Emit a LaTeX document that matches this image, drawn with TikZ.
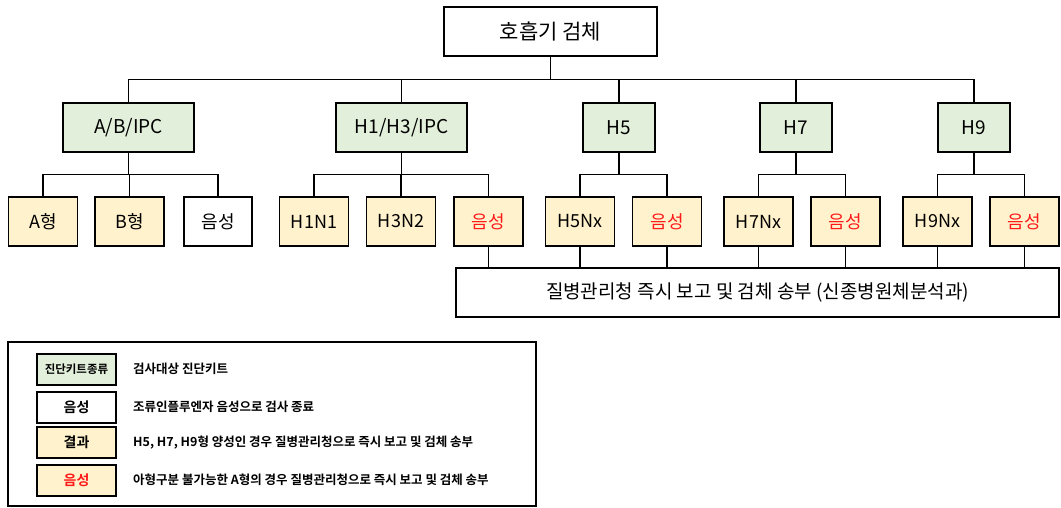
\documentclass[tikz,border=0pt]{standalone}
\usepackage{fontspec}
\setmainfont{Noto Sans CJK KR}[BoldFont = {Noto Sans CJK KR Bold}]
\usepackage{tikz}
\usetikzlibrary{calc}
\definecolor{kitgreen}{HTML}{E2EFDA}
\definecolor{resyellow}{HTML}{FFF2CC}
\definecolor{negred}{HTML}{FF1A1A}
\tikzset{box/.style = {draw, line width = 1.4pt, inner sep = 0, minimum height = 49pt, font = \fontsize{19}{22}\selectfont}}
\tikzset{kit/.style = {box, fill = kitgreen}}
\tikzset{res/.style = {box, fill = resyellow, minimum width = 69pt, font = \fontsize{18}{21}\selectfont}}
\tikzset{neg/.style = {res, text = negred}}
\tikzset{link/.style = {line width = 1.3pt}}
\tikzset{tree/.style = {to path = {(\tikztostart) |- ($(\tikztostart)!0.5!(\tikztotarget)$) -| (\tikztotarget)}}}
\tikzset{legbox/.style = {draw, line width = 2pt, inner sep = 0, minimum width = 79pt, minimum height = 31pt, font = \fontsize{14}{16}\selectfont\bfseries}}
\tikzset{legtext/.style = {anchor = west, inner sep = 0, font = \fontsize{12.5}{15}\selectfont\bfseries}}

\begin{document}
\begin{tikzpicture}[x = 1pt, y = -1pt]
  \useasboundingbox (0, 0) rectangle (1061, 507);
  % specimen
  \node [box, minimum width = 213pt, font = \fontsize{21}{24}\selectfont] (root) at (550.5, 31.5) {호흡기 검체};
  % diagnostic kits
  \node [kit, minimum width = 131pt] (abipc) at (128.5, 127.5) {A/B/IPC};
  \node [kit, minimum width = 131pt] (h13ipc) at (401.5, 127.5) {H1/H3/IPC};
  \foreach \n/\x in {5/619, 7/796, 9/974} {
    \node [kit, minimum width = 72pt] (h\n) at (\x, 127.5) {H\n};
  }
  % results
  \node [res] (atype) at (43, 221.5) {A형};
  \node [res] (btype) at (129.5, 221.5) {B형};
  \node [box, minimum width = 68pt, font = \fontsize{18}{21}\selectfont] (abneg) at (218, 221.5) {음성};
  \node [res] (h1n1) at (314, 221.5) {H1N1};
  \node [res] (h3n2) at (401, 221.5) {H3N2};
  \node [neg] (h13neg) at (488.5, 221.5) {음성};
  \foreach \n/\x in {5/580, 7/758.5, 9/937.5} {
    \node [res] (h\n nx) at (\x, 221.5) {H\n Nx};
    \node [neg] (h\n neg) at (\x + 87, 221.5) {음성};
  }
  \node [box, minimum width = 603pt] (report) at (757.5, 292.5) {질병관리청 즉시 보고 및 검체 송부 (신종병원체분석과)};
  % connectors
  \foreach \k in {abipc, h13ipc, h5, h7, h9} {
    \draw [link] (root.south) to [tree] (\k.north);
  }
  \foreach \a/\b in {abipc/atype, abipc/btype, abipc/abneg, h13ipc/h1n1, h13ipc/h3n2, h13ipc/h13neg,
                     h5/h5nx, h5/h5neg, h7/h7nx, h7/h7neg, h9/h9nx, h9/h9neg} {
    \draw [link] (\a.south) to [tree] (\b.north);
  }
  \foreach \r in {h13neg, h5nx, h5neg, h7nx, h7neg, h9nx, h9neg} {
    \draw [link] (\r.south) -- (\r.south |- report.north);
  }
  % legend
  \draw [line width = 2pt] (8, 342) rectangle (536, 506);
  \node [legbox, fill = kitgreen, font = \fontsize{11.5}{13}\selectfont\bfseries] (legkit) at (76.5, 369) {진단키트종류};
  \node [legbox] (legneg) at (76.5, 407) {음성};
  \node [legbox, fill = resyellow] (legres) at (76.5, 442.5) {결과};
  \node [legbox, fill = resyellow, text = negred] (legalert) at (76.5, 480) {음성};
  \node [legtext] (legkittxt) at (133, 369) {검사대상 진단키트};
  \node [legtext] (legnegtxt) at (133, 407) {조류인플루엔자 음성으로 검사 종료};
  \node [legtext] (legrestxt) at (133, 442.5) {H5, H7, H9형 양성인 경우 질병관리청으로 즉시 보고 및 검체 송부};
  \node [legtext] (legalerttxt) at (133, 480) {아형구분 불가능한 A형의 경우 질병관리청으로 즉시 보고 및 검체 송부};
\end{tikzpicture}
\end{document}
